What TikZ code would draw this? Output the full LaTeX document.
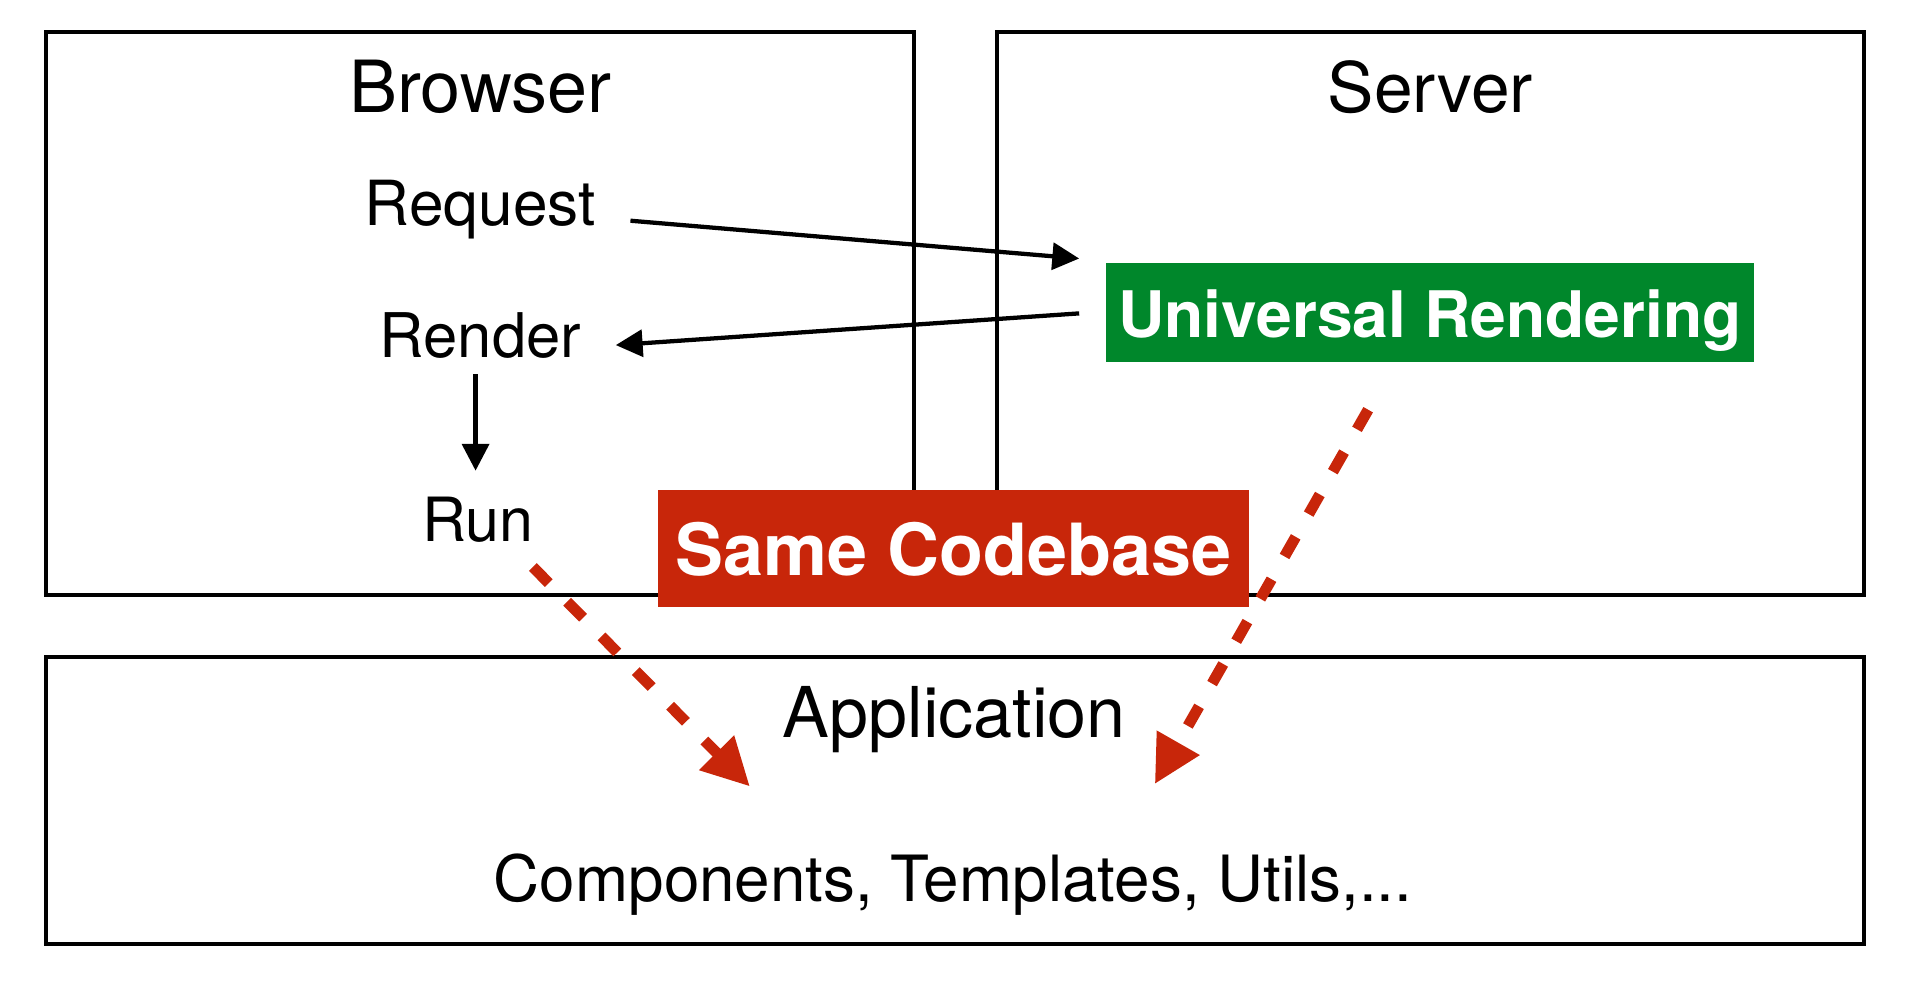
\documentclass[tikz,border=0pt]{standalone}
\usepackage{fontspec}
\setmainfont{TeX Gyre Heros}
\usetikzlibrary{arrows.meta}
\definecolor{codered}{RGB}{200,38,10}
\definecolor{urgreen}{RGB}{0,135,43}
\tikzset{
	panel/.style={draw,line width=3.3pt,inner sep=0pt},
	lbl/.style={anchor=base,inner sep=0pt,font=\fontsize{#1}{#1}\selectfont},
	tag/.style={anchor=base,inner xsep=0pt,inner ysep=0pt,text=white,
		font=\fontsize{#1}{#1}\selectfont\bfseries},
	arr/.style={->,line width=3.5pt},
	redarr/.style={-{Triangle[length=39pt,width=38pt]},line width=9pt,
		color=codered,dash pattern=on 18.5pt off 21.5pt},
}
\begin{document}
\begin{tikzpicture}[x=1pt,y=-1pt,>={Triangle[length=22pt,width=22pt]}]
\useasboundingbox (0,0) rectangle (1568,809);
% the three frames
\node[panel,minimum width=712pt,minimum height=462pt] (browser) at (393.5,257) {};
\node[panel,minimum width=711pt,minimum height=462pt] (server) at (1173,257) {};
\node[panel,minimum width=1491pt,minimum height=235pt] (app) at (783,656.5) {};
% titles
\node[lbl=59] (browsertitle) at (394,92) {Browser};
\node[lbl=57] (servertitle) at (1173,92) {Server};
\node[lbl=57.5] (apptitle) at (782.5,605) {Application};
\node[lbl=52.3] (appparts) at (781.5,739) {Components, Templates, Utils,...};
% browser steps
\node[lbl=51] (request) at (394,185) {Request};
\node[lbl=50.5] (render) at (394,293) {Render};
\node[lbl=50] (run) at (392,444) {Run};
% coloured tags
\node[tag=52.6,fill=urgreen,minimum width=531pt,text height=61pt,text depth=20pt]
	(universal) at (1172.5,277) {Universal Rendering};
\node[tag=59,fill=codered,minimum width=484pt,text height=70pt,text depth=26pt]
	(codebase) at (782,472) {Same Codebase};
% arrow ends
\coordinate (reqout) at (517,181);
\coordinate (reqin) at (885,212);
\coordinate (renout) at (885,257);
\coordinate (renin) at (505,283);
\coordinate (runout) at (390,307);
\coordinate (runin) at (390,386);
\coordinate (redA) at (437,465);
\coordinate (redAend) at (615,645);
\coordinate (redB) at (1122,336);
\coordinate (redBend) at (947,643);
\draw[arr] (reqout) -- (reqin);
\draw[arr] (renout) -- (renin);
\draw[arr] (runout) -- (runin);
\draw[redarr] (redA) -- (redAend);
\draw[redarr] (redB) -- (redBend);
\end{tikzpicture}
\end{document}
